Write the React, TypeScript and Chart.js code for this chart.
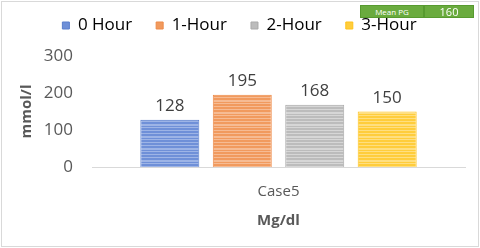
import React, { useEffect, useRef } from "react";
import { Chart, registerables } from "chart.js";

Chart.register(...registerables);

const categories = ["Case5"];
const seriesNames = ["0 Hour", "1-Hour", "2-Hour", "3-Hour"];
const seriesValues = [[128], [195], [168], [150]];
const seriesColors = ["#6f90d8", "#f19a5e", "#bcbcbc", "#ffcd3c"];
const seriesLights = ["#9db4e6", "#f6bb93", "#d6d6d6", "#ffdf80"];
const seriesBorders = ["#5b7fcc", "#ed8a48", "#ababab", "#ffc21a"];
const yTicks = [0, 100, 200, 300];
const tableLabels = ["Mean PG", "160"];

const FONT = "'Open Sans', 'Noto Sans', sans-serif";

const makePattern = (base: string, light: string) => {
  const c = document.createElement("canvas");
  c.width = 4;
  c.height = 12;
  const g = c.getContext("2d")!;
  const rows = [base, light, base, base, light, light, base, light, base, base, light, base];
  rows.forEach((col, i) => {
    g.fillStyle = col;
    g.fillRect(0, i, 4, 1);
  });
  return g.createPattern(c, "repeat");
};

const dataLabels = {
  id: "dataLabels",
  afterLayout(chart: any) {
    const lg = chart.legend;
    if (lg && !lg._shifted) {
      lg._shifted = true;
      const orig = lg.draw.bind(lg);
      lg.draw = (...args: any[]) => {
        const ctx = chart.ctx;
        ctx.save();
        ctx.translate(0, -12);
        orig(...args);
        ctx.restore();
      };
    }
  },
  afterDatasetsDraw(chart: any) {
    const ctx = chart.ctx;
    ctx.save();
    ctx.font = `17px ${FONT}`;
    ctx.fillStyle = "#404040";
    ctx.textAlign = "center";
    ctx.textBaseline = "bottom";
    chart.data.datasets.forEach((ds: any, i: number) => {
      const meta = chart.getDatasetMeta(i);
      meta.data.forEach((bar: any, j: number) => {
        ctx.fillText(String(ds.data[j]), bar.x, bar.y - 5);
      });
    });
    ctx.restore();
  },
};

export default function App() {
  const ref = useRef<HTMLCanvasElement>(null);
  useEffect(() => {
    const chart = new Chart(ref.current!, {
      type: "bar",
      data: {
        labels: categories,
        datasets: seriesNames.map((name, i) => ({
          label: name,
          data: seriesValues[i],
          backgroundColor: makePattern(seriesColors[i], seriesLights[i]) as any,
          borderColor: seriesBorders[i],
          borderWidth: 1,
          categoryPercentage: 0.777,
          barPercentage: 0.814,
        })),
      },
      options: {
        responsive: false,
        animation: false,
        layout: { padding: { top: 5, left: 14, right: 15, bottom: 18 } },
        plugins: {
          legend: {
            position: "top",
            labels: {
              boxWidth: 7,
              boxHeight: 7,
              padding: 24,
              color: "#595959",
              font: { family: FONT, size: 17 },
              generateLabels: (chart: any) =>
                chart.data.datasets.map((ds: any, i: number) => ({
                  text: ds.label,
                  fillStyle: seriesColors[i],
                  strokeStyle: seriesBorders[i],
                  lineWidth: 1,
                  datasetIndex: i,
                })),
            },
          },
          tooltip: { enabled: false },
        },
        scales: {
          x: {
            grid: { display: false, drawTicks: false },
            border: { display: true, color: "#d9d9d9", width: 1 },
            ticks: { color: "#595959", font: { family: FONT, size: 15 }, padding: 16 },
            title: {
              display: true,
              text: "Mg/dl",
              color: "#595959",
              font: { family: FONT, size: 15, weight: "bold" },
              padding: { top: -5, bottom: 0 },
            },
          },
          y: {
            min: 0,
            max: 300,
            afterBuildTicks: (s: any) => {
              s.ticks = yTicks.map((v) => ({ value: v }));
            },
            afterFit: (s: any) => {
              s.width = 78;
            },
            grid: { display: false, drawTicks: false },
            border: { display: false },
            ticks: { color: "#595959", font: { family: FONT, size: 17 }, padding: 19 },
            title: {
              display: true,
              text: "mmol/l",
              color: "#595959",
              font: { family: FONT, size: 15, weight: "bold" },
              padding: { top: 4, bottom: 4 },
            },
          },
        },
      },
      plugins: [dataLabels],
    });
    return () => chart.destroy();
  }, []);

  const cell: React.CSSProperties = {
    position: "absolute",
    top: 5,
    height: 13,
    background: "#6aab3e",
    border: "1px solid #579a2f",
    boxSizing: "border-box",
    color: "#ffffff",
    fontFamily: FONT,
    display: "flex",
    alignItems: "center",
    justifyContent: "center",
    lineHeight: "11px",
  };

  return (
    <div style={{ position: "absolute", left: 0, top: 0, width: 480, height: 248, background: "#fff" }}>
      <div
        style={{
          position: "absolute",
          left: 1,
          top: 1,
          width: 478,
          height: 246,
          border: "1px solid #d9d9d9",
          boxSizing: "border-box",
        }}
      />
      <canvas ref={ref} width={480} height={248} style={{ position: "absolute", left: 0, top: 0 }} />
      <div style={{ ...cell, left: 360, width: 64, fontSize: 8 }}>{tableLabels[0]}</div>
      <div style={{ ...cell, left: 424, width: 50, fontSize: 11 }}>{tableLabels[1]}</div>
    </div>
  );
}
